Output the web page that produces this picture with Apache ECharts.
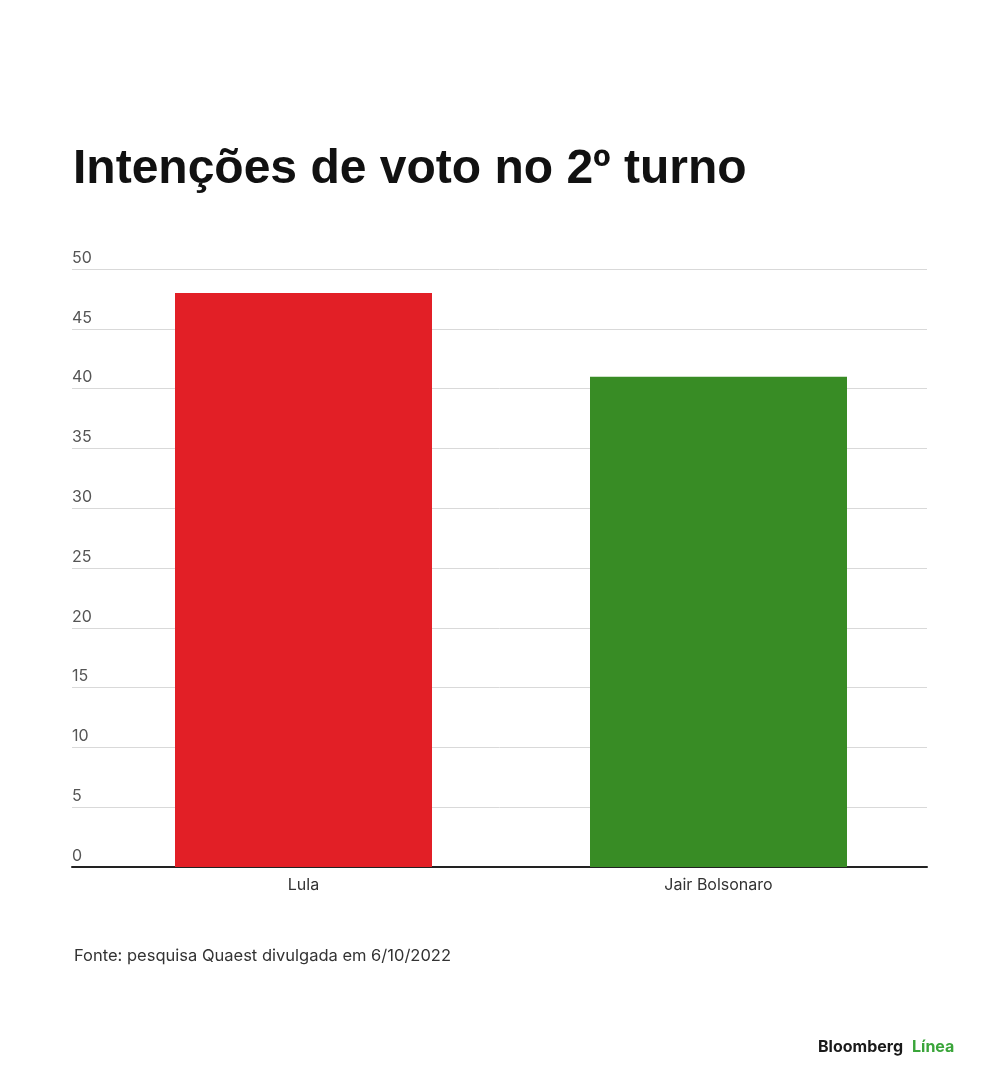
<!DOCTYPE html>
<html>
<head>
<meta charset="utf-8">
<script src="https://cdn.jsdelivr.net/npm/echarts@6/dist/echarts.min.js"></script>
<style>
  html, body { margin: 0; padding: 0; background: #fff; }
  #chart { width: 1000px; height: 1091px; }
</style>
</head>
<body>
<div id="chart"></div>
<script>
// dados da pesquisa
var candidates = ['Lula', 'Jair Bolsonaro']
var votes = [48, 41]
var barColors = ['#e21f26', '#388c25']
var yTicks = [0, 5, 10, 15, 20, 25, 30, 35, 40, 45, 50]

window.onload = function () {
    var chart = echarts.init(document.getElementById('chart'))

    var data = votes.map(function (v, i) {
        return { value: v, itemStyle: { color: barColors[i] } }
    })
    var yMin = yTicks[0]
    var yMax = yTicks[yTicks.length - 1]

    var option = {
        animation: false,
        backgroundColor: '#fff',
        textStyle: { fontFamily: 'Inter, Roboto, sans-serif' },
        graphic: [
            {
                type: 'text', left: 73, top: 146,
                style: {
                    text: 'Intenções de voto no 2º turno',
                    font: 'bold 48px "Liberation Sans", Arial, sans-serif',
                    fill: '#111'
                }
            },
            {
                type: 'text', left: 74, top: 948,
                style: {
                    text: 'Fonte: pesquisa Quaest divulgada em 6/10/2022',
                    font: '16.5px Inter, Roboto, sans-serif',
                    fill: '#333'
                }
            },
            {
                type: 'text', left: 818, top: 1039,
                style: {
                    text: 'Bloomberg',
                    font: 'bold 16px Inter, Roboto, sans-serif',
                    fill: '#1a1a1a'
                }
            },
            {
                type: 'text', left: 912, top: 1039,
                style: {
                    text: 'Línea',
                    font: 'bold 16px Inter, Roboto, sans-serif',
                    fill: '#3aa53a'
                }
            }
        ],
        grid: [
            // grade com linhas e rótulos do eixo Y
            { left: 72, right: 73, top: 269, bottom: 224 },
            // grade das barras
            { left: 96, right: 74, top: 269, bottom: 224 }
        ],
        xAxis: [
            {
                type: 'category',
                gridIndex: 0,
                data: candidates,
                axisTick: { show: false },
                axisLine: { lineStyle: { color: '#222', width: 2 } },
                axisLabel: { show: false }
            },
            {
                type: 'category',
                gridIndex: 1,
                data: candidates,
                axisTick: { show: false },
                axisLine: { show: false },
                axisLabel: { color: '#333', fontSize: 16, margin: 10 }
            }
        ],
        yAxis: [
            {
                type: 'value',
                gridIndex: 0,
                min: yMin,
                max: yMax,
                interval: 5,
                axisLine: { show: false },
                axisTick: { show: false },
                splitLine: { lineStyle: { color: '#d9d9d9', width: 1 } },
                axisLabel: {
                    inside: true,
                    color: '#555',
                    fontSize: 16,
                    margin: 0,
                    align: 'left',
                    verticalAlign: 'bottom',
                    padding: [0, 0, 3, 0]
                }
            },
            {
                type: 'value',
                gridIndex: 1,
                min: yMin,
                max: yMax,
                interval: 5,
                show: false
            }
        ],
        series: [{
            type: 'bar',
            xAxisIndex: 1,
            yAxisIndex: 1,
            data: data,
            barWidth: 257,
            z: 3
        }]
    }
    chart.setOption(option)
}
</script>
</body>
</html>
